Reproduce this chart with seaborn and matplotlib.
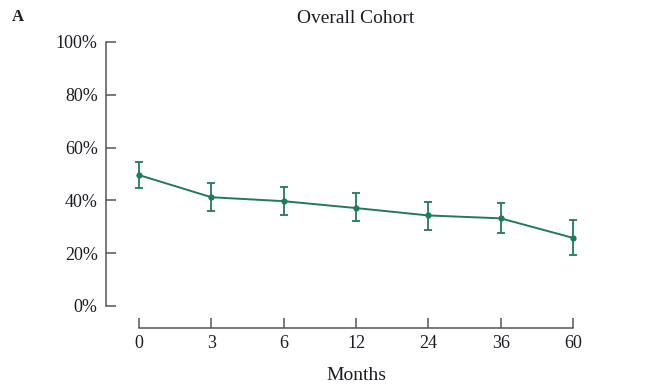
import matplotlib
matplotlib.use("Agg")
import matplotlib.pyplot as plt
import seaborn as sns
import pandas as pd
import numpy as np

# Follow-up time points (months) and the share of the overall cohort at each
months = ["0", "3", "6", "12", "24", "36", "60"]
rate = [49.6, 41.2, 39.7, 37.1, 34.3, 33.2, 25.8]
ci_low = [44.6, 36.1, 34.5, 32.2, 28.8, 27.5, 19.3]
ci_high = [54.6, 46.7, 45.2, 42.8, 39.4, 39.0, 32.5]
y_ticks = [0, 20, 40, 60, 80, 100]

sns.set_theme(style="ticks")
plt.rcParams["font.family"] = ["Liberation Serif", "DejaVu Serif"]

green = "#1f7a5f"
axis_grey = "#555555"
text_col = "#1c1c24"

df = pd.DataFrame({"pos": np.arange(len(months)), "rate": rate,
                   "lo": ci_low, "hi": ci_high})

fig = plt.figure(figsize=(6.47, 3.85), dpi=100)
ax = fig.add_axes([106 / 647, 79 / 385, 500 / 647, 264 / 385])

sns.lineplot(data=df, x="pos", y="rate", ax=ax, color=green, lw=1.4,
             marker="o", markersize=4.5, markeredgewidth=0)
ax.errorbar(df["pos"], df["rate"],
            yerr=[df["rate"] - df["lo"], df["hi"] - df["rate"]],
            fmt="none", ecolor=green, elinewidth=1.3, capsize=3.2, capthick=1.3)

ax.set_xlim(-0.456, 6.456)
ax.set_ylim(0, 100)
ax.set_xticks(df["pos"])
ax.set_xticklabels(months)
ax.set_yticks(y_ticks)
ax.set_yticklabels([f"{v}%" for v in y_ticks])

for side in ("top", "right"):
    ax.spines[side].set_visible(False)
ax.spines["bottom"].set_position(("outward", 16))
ax.spines["bottom"].set_bounds(0, len(months) - 1)
ax.spines["left"].set_bounds(0, 100)
for side in ("left", "bottom"):
    ax.spines[side].set_color(axis_grey)
    ax.spines[side].set_linewidth(1.1)

ax.tick_params(axis="both", direction="in", length=7, width=1.1,
               color=axis_grey, labelsize=13, labelcolor=text_col)
ax.tick_params(axis="y", pad=6)
ax.tick_params(axis="x", pad=5)

ax.set_xlabel("Months", fontsize=14, color=text_col, labelpad=11)
ax.set_ylabel("")
ax.set_title("Overall Cohort", fontsize=14, color=text_col, pad=14)
fig.text(12 / 647, 1 - 17 / 385, "A", fontsize=12, fontweight="bold",
         va="center", ha="left", color=text_col)

fig.savefig("out.png", dpi=100, facecolor="white")
